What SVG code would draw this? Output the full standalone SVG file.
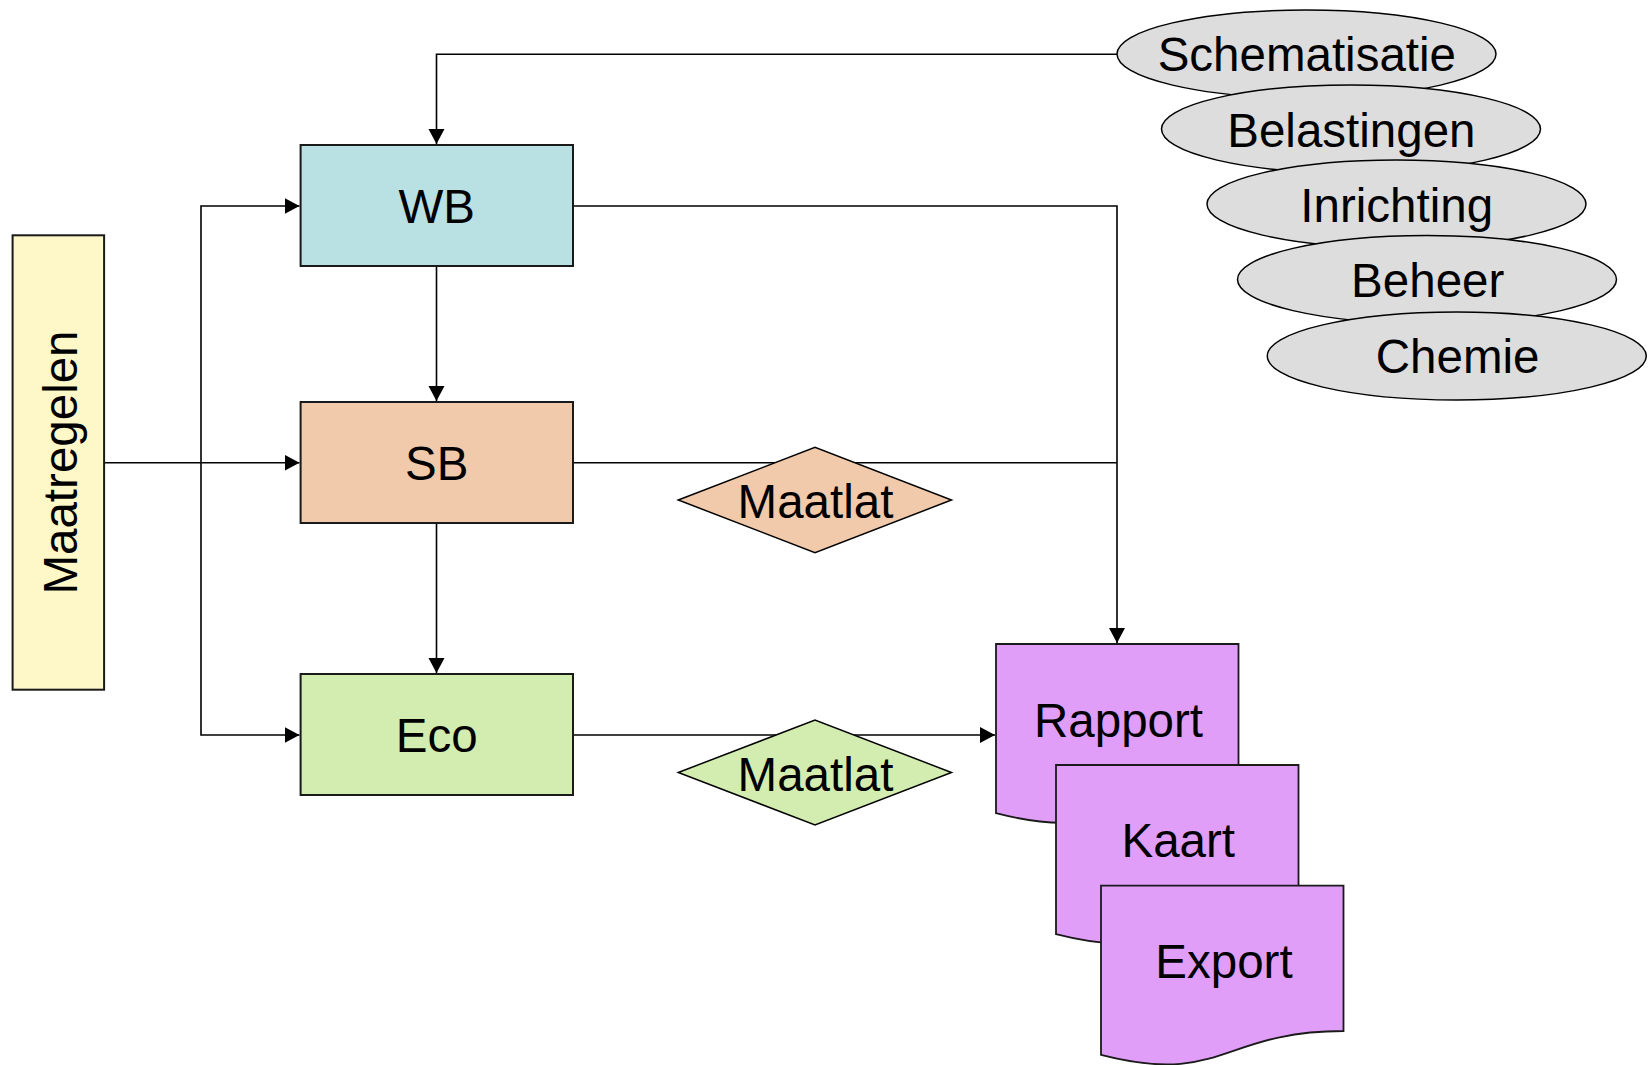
<svg xmlns="http://www.w3.org/2000/svg" width="1649" height="1065" viewBox="0 0 1649 1065">
  <style>
    .lbl { font-family: "Liberation Sans", Arial, sans-serif; font-size: 47.5px; fill: #000; text-anchor: middle; }
    .box { stroke: #1a1a1a; stroke-width: 2; }
    .oval { fill: #dddddd; stroke: #000; stroke-width: 1.5; }
    .doc { fill: #e19ef8; stroke: #1a1a1a; stroke-width: 1.8; }
    .dia { stroke: #000; stroke-width: 1.5; }
    .wire { fill: none; stroke: #000; stroke-width: 1.6; }
  </style>
  <defs>
    <marker id="arrow" markerUnits="userSpaceOnUse" markerWidth="18" markerHeight="18" refX="15" refY="8" orient="auto">
      <path d="M0,0 L15,8 L0,16 Z" fill="#000"/>
    </marker>
  </defs>
  <rect width="1649" height="1065" fill="#fff"/>

  <!-- connectors -->
  <g id="connectors">
    <path class="wire" d="M1117,54.3 H436.5 V144" marker-end="url(#arrow)"/>
    <path class="wire" d="M104,462.7 H299.5" marker-end="url(#arrow)"/>
    <path class="wire" d="M201,462.7 V206 H299.5" marker-end="url(#arrow)"/>
    <path class="wire" d="M201,462.7 V735 H299.5" marker-end="url(#arrow)"/>
    <path class="wire" d="M436.5,266 V401" marker-end="url(#arrow)"/>
    <path class="wire" d="M436.5,523 V673" marker-end="url(#arrow)"/>
    <path class="wire" d="M573,206 H1117 V643" marker-end="url(#arrow)"/>
    <path class="wire" d="M573,462.7 H1117"/>
    <path class="wire" d="M573,735 H995" marker-end="url(#arrow)"/>
  </g>

  <!-- measures bar -->
  <g id="maatregelen">
    <rect class="box" x="12.6" y="235.3" width="91.5" height="454.4" fill="#fef8c9"/>
    <text class="lbl" transform="translate(76.5,462.5) rotate(-90)" x="0" y="0">Maatregelen</text>
  </g>

  <!-- model boxes -->
  <g id="wb">
    <rect class="box" x="300.6" y="145" width="272.4" height="121" fill="#b9e0e3"/>
    <text class="lbl" x="436.8" y="222.5">WB</text>
  </g>
  <g id="sb">
    <rect class="box" x="300.6" y="402" width="272.4" height="121" fill="#f1c9ab"/>
    <text class="lbl" x="436.8" y="479.5">SB</text>
  </g>
  <g id="eco">
    <rect class="box" x="300.6" y="674" width="272.4" height="121" fill="#d3ecaf"/>
    <text class="lbl" x="436.8" y="752">Eco</text>
  </g>

  <!-- measuring rods -->
  <g id="maatlat-sb">
    <polygon class="dia" points="678.3,500 815,447.3 951.5,500 815,552.7" fill="#f1c9ab"/>
    <text class="lbl" x="815.5" y="518.3">Maatlat</text>
  </g>
  <g id="maatlat-eco">
    <polygon class="dia" points="678.3,772.5 815,720 951.5,772.5 815,825" fill="#d3ecaf"/>
    <text class="lbl" x="815.5" y="790.7">Maatlat</text>
  </g>

  <!-- input data -->
  <g id="schematisatie">
    <ellipse class="oval" cx="1306.5" cy="54" rx="189.5" ry="44"/>
    <text class="lbl" x="1306.8" y="71">Schematisatie</text>
  </g>
  <g id="belastingen">
    <ellipse class="oval" cx="1351" cy="129" rx="189.5" ry="44"/>
    <text class="lbl" x="1351.4" y="146.5">Belastingen</text>
  </g>
  <g id="inrichting">
    <ellipse class="oval" cx="1396.5" cy="204" rx="189.5" ry="44"/>
    <text class="lbl" x="1396.7" y="221.8">Inrichting</text>
  </g>
  <g id="beheer">
    <ellipse class="oval" cx="1427" cy="279.5" rx="189.5" ry="44"/>
    <text class="lbl" x="1427.7" y="297.3">Beheer</text>
  </g>
  <g id="chemie">
    <ellipse class="oval" cx="1456.8" cy="356" rx="189.5" ry="44"/>
    <text class="lbl" x="1457.6" y="373">Chemie</text>
  </g>

  <!-- outputs -->
  <g id="rapport">
    <path class="doc" d="M996,644 H1238.5 V789.3 C1117.2,789.3 1117.2,844.5 996,813.2 Z"/>
    <text class="lbl" x="1118.5" y="736.7">Rapport</text>
  </g>
  <g id="kaart">
    <path class="doc" d="M1056,765 H1298.5 V910.3 C1177.2,910.3 1177.2,965.5 1056,934.2 Z"/>
    <text class="lbl" x="1178.3" y="857.3">Kaart</text>
  </g>
  <g id="export">
    <path class="doc" d="M1101,885.7 H1343.5 V1031 C1222.2,1031 1222.2,1086.2 1101,1054.9 Z"/>
    <text class="lbl" x="1224" y="978.3">Export</text>
  </g>
</svg>
